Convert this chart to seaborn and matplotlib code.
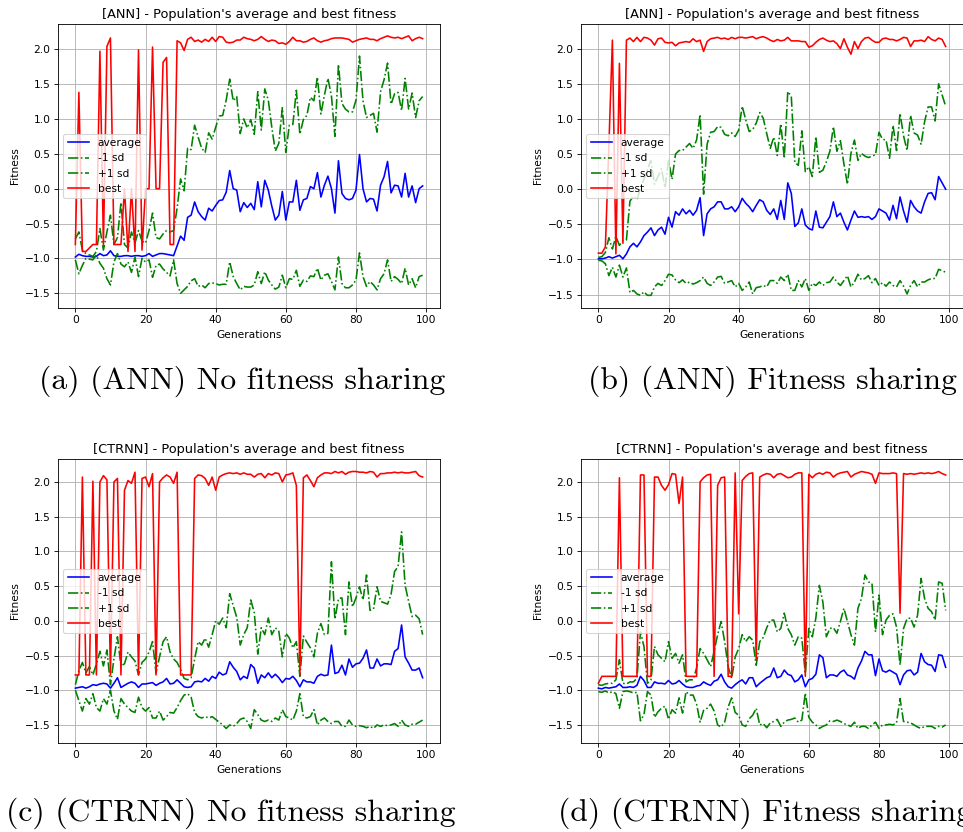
import numpy as np
import matplotlib
matplotlib.use("Agg")
import matplotlib.pyplot as plt
import seaborn as sns

gens = np.arange(100)

# ---- (a) ANN, no fitness sharing ----
best_a = [-0.80, 1.38, -0.90, -0.90, -0.85, -0.80, -0.80, 1.97, -0.80, 2.04,
          2.16, -0.80, -0.80, -0.80, 0.00, -0.90, 0.00, -0.90, 1.99, -0.88,
          0.00, 0.00, 2.03, 0.00, 0.00, 1.81, 1.88, -0.80, -0.80, 2.12,
          2.09, 1.98, 2.14, 2.17, 2.11, 2.13, 2.10, 2.14, 2.11, 2.17,
          2.11, 2.18, 2.17, 2.10, 2.09, 2.10, 2.13, 2.13, 2.17, 2.15,
          2.14, 2.12, 2.14, 2.18, 2.14, 2.11, 2.13, 2.12, 2.08, 2.09,
          2.07, 2.11, 2.17, 2.12, 2.12, 2.10, 2.11, 2.14, 2.16, 2.12,
          2.10, 2.12, 2.13, 2.15, 2.16, 2.16, 2.16, 2.15, 2.14, 2.10,
          2.12, 2.14, 2.15, 2.16, 2.14, 2.14, 2.12, 2.15, 2.17, 2.19,
          2.17, 2.16, 2.17, 2.15, 2.17, 2.19, 2.12, 2.15, 2.17, 2.15]
avg_a = [-0.98, -0.94, -0.96, -0.97, -0.97, -0.98, -0.97, -0.93, -0.96, -0.95,
         -0.89, -0.96, -0.97, -0.97, -0.96, -0.96, -0.97, -0.96, -0.96, -0.97,
         -0.96, -0.93, -0.97, -0.95, -0.93, -0.93, -0.94, -0.95, -0.96, -0.82,
         -0.68, -0.74, -0.41, -0.38, -0.19, -0.33, -0.40, -0.45, -0.28, -0.32,
         -0.24, -0.17, -0.16, -0.05, 0.26, 0.00, -0.02, -0.33, -0.20, -0.27,
         -0.21, -0.30, 0.10, -0.26, 0.12, -0.02, -0.25, -0.45, -0.38, -0.04,
         -0.45, -0.19, -0.19, 0.12, -0.31, -0.16, -0.14, 0.03, 0.00, 0.23,
         -0.12, 0.05, 0.18, 0.00, -0.35, 0.40, -0.07, -0.14, -0.16, -0.14,
         -0.02, 0.49, 0.00, -0.19, -0.14, -0.15, -0.32, 0.05, 0.17, 0.39,
         -0.06, 0.05, 0.04, -0.12, 0.22, -0.12, 0.04, -0.20, 0.00, 0.04]
lower_a = [-1.02, -1.22, -1.10, -1.00, -1.01, -1.02, -0.95, -1.07, -1.14, -1.29,
           -1.38, -1.05, -0.93, -1.08, -1.12, -1.05, -1.20, -0.98, -1.26, -1.00,
           -1.05, -1.02, -1.27, -1.10, -1.08, -1.15, -1.20, -1.25, -1.02, -1.36,
           -1.50, -1.45, -1.40, -1.32, -1.29, -1.40, -1.38, -1.42, -1.36, -1.35,
           -1.36, -1.38, -1.37, -1.37, -1.05, -1.26, -1.36, -1.45, -1.40, -1.41,
           -1.41, -1.38, -1.19, -1.36, -1.19, -1.31, -1.38, -1.44, -1.41, -1.24,
           -1.42, -1.29, -1.30, -1.17, -1.40, -1.31, -1.33, -1.25, -1.26, -1.14,
           -1.31, -1.24, -1.22, -1.33, -1.45, -0.98, -1.36, -1.42, -1.42, -1.38,
           -1.31, -0.92, -1.26, -1.40, -1.33, -1.38, -1.45, -1.29, -1.22, -1.02,
           -1.33, -1.26, -1.30, -1.36, -1.14, -1.38, -1.29, -1.42, -1.26, -1.24]
upper_a = [-0.72, -0.62, -0.88, -0.93, -0.95, -0.97, -0.90, -0.57, -0.88, -0.62,
           -0.38, -0.80, -0.70, -0.20, -0.80, -0.85, -0.62, -0.78, -0.60, -0.75,
           -0.78, -0.60, -0.35, -0.70, -0.72, -0.65, -0.60, -0.62, -0.60, -0.28,
           0.14, -0.03, 0.58, 0.56, 0.91, 0.74, 0.58, 0.52, 0.80, 0.71,
           0.88, 1.04, 1.05, 1.27, 1.57, 1.26, 1.32, 0.79, 1.00, 0.87,
           0.99, 0.78, 1.39, 0.84, 1.43, 1.27, 0.88, 0.54, 0.65, 1.16,
           0.52, 0.91, 0.92, 1.41, 0.78, 0.99, 1.05, 1.31, 1.26, 1.60,
           1.07, 1.34, 1.58, 1.33, 0.75, 1.78, 1.22, 1.14, 1.10, 1.10,
           1.27, 1.90, 1.26, 1.02, 1.05, 1.08, 0.81, 1.39, 1.56, 1.80,
           1.21, 1.36, 1.38, 1.12, 1.58, 1.14, 1.37, 1.02, 1.26, 1.32]

# ---- (b) ANN, fitness sharing ----
best_b = [-0.91, -0.91, -0.82, 0.62, 2.12, -0.92, 1.79, -0.77, 2.12, 2.15,
          2.10, 2.16, 2.10, 2.16, 2.15, 2.12, 2.05, 2.14, 2.15, 2.09,
          2.08, 2.09, 2.04, 2.08, 2.09, 2.10, 2.09, 2.14, 2.10, 2.12,
          1.96, 2.10, 2.14, 2.15, 2.16, 2.14, 2.15, 2.13, 2.16, 2.14,
          2.16, 2.16, 2.15, 2.16, 2.17, 2.14, 2.16, 2.17, 2.15, 2.12,
          2.10, 2.13, 2.11, 2.12, 2.16, 2.11, 2.11, 2.11, 2.10, 2.10,
          2.02, 2.04, 2.09, 2.13, 2.15, 2.12, 2.10, 2.11, 2.07, 2.00,
          2.14, 2.02, 1.92, 2.10, 2.00, 2.10, 2.15, 2.16, 2.12, 2.09,
          2.09, 2.14, 2.15, 2.13, 2.13, 2.11, 2.13, 2.16, 2.15, 2.03,
          2.11, 2.11, 2.12, 2.10, 2.17, 2.13, 2.11, 2.15, 2.13, 2.03]
avg_b = [-0.99, -0.99, -0.98, -0.96, -0.98, -0.96, -0.94, -0.99, -0.92, -0.82,
         -0.77, -0.82, -0.75, -0.66, -0.61, -0.55, -0.66, -0.58, -0.54, -0.64,
         -0.40, -0.54, -0.32, -0.37, -0.28, -0.35, -0.30, -0.37, -0.30, -0.12,
         -0.66, -0.35, -0.28, -0.25, -0.18, -0.18, -0.28, -0.28, -0.25, -0.32,
         -0.25, -0.13, -0.20, -0.25, -0.32, -0.23, -0.15, -0.18, -0.30, -0.36,
         -0.28, -0.43, -0.16, -0.43, 0.09, -0.06, -0.53, -0.48, -0.28, -0.51,
         -0.56, -0.58, -0.31, -0.54, -0.55, -0.47, -0.39, -0.18, -0.39, -0.34,
         -0.47, -0.58, -0.44, -0.31, -0.40, -0.39, -0.40, -0.39, -0.43, -0.39,
         -0.28, -0.31, -0.34, -0.44, -0.23, -0.42, -0.11, -0.31, -0.47, -0.16,
         -0.25, -0.31, -0.34, -0.18, -0.06, -0.05, -0.15, 0.18, 0.09, 0.00]
lower_b = [-1.01, -1.02, -1.06, -1.23, -1.11, -1.25, -1.08, -1.25, -1.12, -1.47,
           -1.44, -1.49, -1.51, -1.46, -1.51, -1.51, -1.39, -1.34, -1.37, -1.30,
           -1.21, -1.22, -1.29, -1.33, -1.29, -1.34, -1.32, -1.35, -1.33, -1.30,
           -1.25, -1.34, -1.37, -1.32, -1.25, -1.24, -1.34, -1.32, -1.30, -1.39,
           -1.34, -1.44, -1.39, -1.32, -1.49, -1.40, -1.39, -1.37, -1.39, -1.30,
           -1.30, -1.34, -1.25, -1.30, -1.21, -1.44, -1.44, -1.30, -1.39, -1.27,
           -1.44, -1.34, -1.37, -1.32, -1.37, -1.33, -1.32, -1.25, -1.32, -1.37,
           -1.30, -1.23, -1.39, -1.32, -1.21, -1.29, -1.27, -1.23, -1.33, -1.27,
           -1.37, -1.33, -1.38, -1.32, -1.37, -1.39, -1.30, -1.38, -1.49, -1.37,
           -1.30, -1.39, -1.32, -1.32, -1.29, -1.27, -1.27, -1.14, -1.16, -1.18]
upper_b = [-0.97, -0.96, -0.90, -0.69, -0.85, -0.67, -0.80, -0.73, -0.72, -0.17,
           -0.10, -0.15, 0.01, 0.14, 0.29, 0.41, 0.07, 0.18, 0.29, 0.02,
           0.41, 0.14, 0.50, 0.55, 0.55, 0.60, 0.65, 0.58, 0.70, 1.06,
           -0.07, 0.64, 0.81, 0.82, 0.89, 0.88, 0.78, 0.76, 0.80, 0.75,
           0.84, 1.18, 0.99, 0.82, 0.85, 0.94, 1.09, 1.01, 0.79, 0.58,
           0.74, 0.48, 0.93, 0.44, 1.39, 1.32, 0.38, 0.34, 0.83, 0.25,
           0.32, 0.18, 0.75, 0.24, 0.27, 0.39, 0.54, 0.89, 0.54, 0.69,
           0.36, 0.07, 0.51, 0.70, 0.41, 0.51, 0.47, 0.45, 0.47, 0.49,
           0.81, 0.71, 0.70, 0.44, 0.91, 0.55, 1.08, 0.76, 0.55, 1.05,
           0.80, 0.77, 0.64, 0.96, 1.17, 1.17, 0.97, 1.50, 1.34, 1.18]

# ---- (c) CTRNN, no fitness sharing ----
best_c = [-0.78, -0.78, 2.07, -0.78, -0.78, 2.01, -0.78, 2.00, 2.09, 2.03,
          -0.78, 2.00, 2.05, -0.78, 1.88, 2.02, 1.98, 2.14, -0.78, 2.05,
          2.07, 1.93, 2.12, -0.78, 2.00, 2.06, 2.10, 2.07, 1.98, 2.14,
          -0.78, -0.78, -0.78, -0.78, 2.05, 2.10, 2.09, 2.05, 1.95, 2.07,
          1.88, 2.07, 2.10, 2.12, 2.13, 2.12, 2.13, 2.11, 2.13, 2.11,
          2.11, 2.07, 2.11, 2.12, 2.06, 2.12, 2.10, 2.13, 2.12, 2.00,
          2.10, 2.11, 2.13, 1.95, -0.78, 2.06, 2.10, 2.02, 1.93, 2.06,
          2.10, 2.13, 2.13, 2.12, 2.15, 2.13, 2.15, 2.11, 2.14, 2.15,
          2.15, 2.14, 2.14, 2.13, 2.15, 2.14, 2.07, 2.12, 2.12, 2.13,
          2.13, 2.14, 2.13, 2.14, 2.13, 2.13, 2.14, 2.15, 2.09, 2.07]
avg_c = [-0.97, -0.96, -0.95, -0.97, -0.95, -0.92, -0.93, -0.91, -0.90, -0.91,
         -0.97, -0.90, -0.82, -0.96, -0.93, -0.90, -0.88, -0.90, -0.96, -0.91,
         -0.91, -0.90, -0.89, -0.93, -0.90, -0.88, -0.83, -0.91, -0.90, -0.85,
         -0.90, -0.95, -0.96, -0.95, -0.88, -0.87, -0.88, -0.83, -0.87, -0.80,
         -0.83, -0.74, -0.78, -0.76, -0.59, -0.67, -0.73, -0.85, -0.80, -0.83,
         -0.63, -0.68, -0.90, -0.78, -0.82, -0.75, -0.82, -0.77, -0.82, -0.89,
         -0.83, -0.84, -0.80, -0.86, -0.95, -0.85, -0.88, -0.88, -0.90, -0.80,
         -0.77, -0.79, -0.78, -0.35, -0.76, -0.74, -0.64, -0.78, -0.55, -0.67,
         -0.62, -0.61, -0.54, -0.42, -0.68, -0.68, -0.55, -0.65, -0.62, -0.62,
         -0.63, -0.44, -0.40, -0.06, -0.52, -0.61, -0.71, -0.71, -0.68, -0.82]
lower_c = [-1.00, -1.15, -1.30, -1.12, -1.20, -1.05, -1.25, -1.30, -1.12, -1.20,
           -1.00, -1.30, -1.42, -1.12, -1.20, -1.25, -1.30, -1.32, -1.10, -1.25,
           -1.30, -1.25, -1.40, -1.40, -1.30, -1.43, -1.38, -1.32, -1.33, -1.25,
           -1.15, -1.07, -1.05, -1.10, -1.32, -1.38, -1.40, -1.38, -1.40, -1.38,
           -1.42, -1.46, -1.50, -1.55, -1.50, -1.52, -1.48, -1.42, -1.40, -1.45,
           -1.55, -1.28, -1.35, -1.43, -1.45, -1.43, -1.45, -1.40, -1.43, -1.28,
           -1.38, -1.40, -1.43, -1.30, -1.05, -1.38, -1.40, -1.38, -1.28, -1.50,
           -1.43, -1.40, -1.45, -1.48, -1.45, -1.45, -1.52, -1.52, -1.43, -1.50,
           -1.52, -1.51, -1.52, -1.54, -1.52, -1.55, -1.50, -1.52, -1.50, -1.51,
           -1.50, -1.48, -1.52, -1.43, -1.50, -1.52, -1.49, -1.49, -1.46, -1.43]
upper_c = [-0.92, -0.72, -0.60, -0.75, -0.66, -0.78, -0.62, -0.44, -0.65, -0.42,
           -0.92, -0.55, -0.23, -0.65, -0.62, -0.45, -0.52, -0.58, -0.78, -0.60,
           -0.55, -0.45, -0.30, -0.75, -0.52, -0.30, -0.23, -0.45, -0.55, -0.60,
           -0.70, -0.83, -0.85, -0.82, -0.55, -0.30, -0.35, -0.25, -0.38, -0.20,
           0.00, -0.05, 0.04, -0.10, 0.39, 0.22, 0.05, -0.35, -0.20, -0.10,
           0.30, 0.12, -0.48, -0.10, -0.20, 0.04, -0.20, -0.10, -0.15, -0.52,
           -0.18, -0.25, -0.39, -0.30, -0.80, -0.22, -0.31, -0.39, -0.52, -0.18,
           -0.04, -0.20, -0.18, 0.85, 0.02, 0.32, 0.33, -0.20, 0.56, 0.20,
           0.33, 0.49, 0.30, 0.66, 0.15, 0.17, 0.49, 0.28, 0.26, 0.24,
           0.38, 0.71, 0.78, 1.28, 0.51, 0.28, 0.06, 0.08, 0.03, -0.20]

# ---- (d) CTRNN, fitness sharing ----
best_d = [-0.90, -0.80, -0.80, -0.80, -0.80, -0.80, 2.06, -0.80, -0.80, -0.80,
          -0.80, -0.80, 2.10, 2.10, -0.80, -0.80, 2.07, 2.07, 1.95, 1.88,
          1.96, 2.12, 2.11, 1.69, 2.07, -0.80, -0.80, -0.80, -0.80, 2.00,
          2.06, 2.10, 2.11, -0.80, 1.95, 2.06, 2.07, -0.80, -0.80, 2.13,
          0.10, 2.02, 2.08, 2.12, 2.13, -0.56, 2.07, 2.10, 2.12, 2.11,
          2.06, 2.11, 2.12, 2.09, 2.06, 2.07, 2.11, 2.13, 2.13, -0.80,
          2.11, 2.06, 2.11, 2.13, 2.11, 2.14, 2.13, 2.07, 2.11, 2.13,
          2.14, 2.15, 2.07, 2.11, 2.13, 2.15, 2.14, 2.13, 2.11, 1.98,
          2.13, 2.12, 2.12, 2.12, 2.13, 2.12, 0.11, 2.12, 2.11, 2.12,
          2.11, 2.12, 2.13, 2.12, 2.13, 2.12, 2.13, 2.15, 2.12, 2.10]
avg_d = [-0.97, -0.98, -0.96, -0.97, -0.96, -0.95, -0.91, -0.96, -0.96, -0.95,
         -0.96, -0.93, -0.80, -0.86, -0.96, -0.96, -0.88, -0.90, -0.90, -0.91,
         -0.86, -0.91, -0.90, -0.86, -0.91, -0.95, -0.96, -0.96, -0.94, -0.93,
         -0.88, -0.91, -0.93, -0.87, -0.85, -0.77, -0.88, -0.95, -0.97, -0.92,
         -0.88, -0.85, -0.91, -0.82, -0.82, -0.95, -0.90, -0.86, -0.82, -0.80,
         -0.68, -0.82, -0.80, -0.71, -0.77, -0.79, -0.88, -0.85, -0.78, -0.95,
         -0.85, -0.83, -0.77, -0.49, -0.53, -0.82, -0.78, -0.78, -0.80, -0.74,
         -0.71, -0.78, -0.80, -0.84, -0.68, -0.58, -0.44, -0.49, -0.49, -0.79,
         -0.55, -0.72, -0.74, -0.71, -0.74, -0.77, -0.92, -0.78, -0.72, -0.71,
         -0.78, -0.74, -0.47, -0.59, -0.63, -0.64, -0.73, -0.49, -0.50, -0.67]
lower_d = [-1.02, -1.03, -1.01, -1.04, -1.02, -1.05, -1.26, -1.02, -1.01, -1.02,
           -1.04, -1.03, -1.44, -1.35, -1.02, -1.07, -1.39, -1.31, -1.26, -1.23,
           -1.42, -1.28, -1.33, -1.11, -1.33, -1.02, -1.07, -1.07, -1.20, -1.46,
           -1.29, -1.26, -1.20, -1.30, -1.50, -1.53, -1.46, -1.24, -1.11, -1.32,
           -1.36, -1.50, -1.52, -1.41, -1.36, -1.26, -1.50, -1.48, -1.54, -1.47,
           -1.45, -1.42, -1.52, -1.46, -1.43, -1.42, -1.40, -1.46, -1.43, -1.04,
           -1.39, -1.46, -1.50, -1.55, -1.52, -1.50, -1.44, -1.45, -1.43, -1.45,
           -1.48, -1.50, -1.52, -1.46, -1.55, -1.52, -1.52, -1.55, -1.50, -1.46,
           -1.55, -1.50, -1.50, -1.49, -1.50, -1.47, -1.12, -1.45, -1.46, -1.47,
           -1.50, -1.53, -1.55, -1.52, -1.52, -1.52, -1.55, -1.52, -1.53, -1.50]
upper_d = [-0.92, -0.93, -0.91, -0.90, -0.90, -0.85, -0.56, -0.90, -0.91, -0.88,
           -0.88, -0.83, -0.16, -0.37, -0.90, -0.85, -0.37, -0.49, -0.54, -0.59,
           -0.30, -0.54, -0.47, -0.61, -0.49, -0.88, -0.85, -0.85, -0.68, -0.40,
           -0.47, -0.56, -0.66, -0.44, -0.20, -0.01, -0.30, -0.66, -0.83, -0.52,
           -0.40, -0.20, -0.30, -0.23, -0.28, -0.64, -0.30, -0.24, -0.10, 0.01,
           0.01, -0.16, -0.11, 0.11, -0.11, -0.20, -0.35, -0.23, -0.25, -0.76,
           -0.11, -0.23, 0.04, 0.51, 0.27, -0.23, -0.11, -0.10, -0.18, -0.01,
           0.18, -0.01, -0.20, -0.35, 0.18, 0.32, 0.66, 0.56, 0.54, -0.16,
           0.37, -0.20, 0.01, 0.08, 0.10, -0.09, -0.64, -0.11, 0.03, 0.04,
           -0.09, 0.08, 0.61, 0.32, 0.18, 0.13, 0.01, 0.56, 0.54, 0.15]

titles = ["[ANN] - Population's average and best fitness",
          "[ANN] - Population's average and best fitness",
          "[CTRNN] - Population's average and best fitness",
          "[CTRNN] - Population's average and best fitness"]
captions = ["(a) (ANN) No fitness sharing", "(b) (ANN) Fitness sharing",
            "(c) (CTRNN) No fitness sharing", "(d) (CTRNN) Fitness sharing"]

# each subplot is a default 640x480 matplotlib figure shrunk to ~77%
s = 0.77
plt.rcParams.update({
    "font.size": 10 * s,
    "axes.titlesize": 12 * s,
    "axes.titlepad": 6 * s,
    "axes.labelpad": 4 * s,
    "axes.linewidth": 0.8 * s,
    "grid.linewidth": 0.8 * s,
    "lines.linewidth": 1.5 * s,
    "patch.linewidth": 1.0 * s,
    "xtick.major.size": 3.5 * s, "ytick.major.size": 3.5 * s,
    "xtick.major.width": 0.8 * s, "ytick.major.width": 0.8 * s,
    "xtick.major.pad": 3.5 * s, "ytick.major.pad": 3.5 * s,
})

fig = plt.figure(figsize=(9.63, 8.32), dpi=100)

# top-left corner of each axes box, in pixels
boxes = [(58, 24), (581, 24), (58, 459), (581, 459)]
ylims = [(-1.71, 2.36), (-1.69, 2.35), (-1.76, 2.33), (-1.76, 2.33)]
panels = [(avg_a, lower_a, upper_a, best_a), (avg_b, lower_b, upper_b, best_b),
          (avg_c, lower_c, upper_c, best_c), (avg_d, lower_d, upper_d, best_d)]

W, H = 963, 832
for i, (avg, lo, up, best) in enumerate(panels):
    x0, y0 = boxes[i]
    ax = fig.add_axes([x0 / W, 1 - (y0 + 284) / H, 382 / W, 284 / H])
    sns.lineplot(x=gens, y=avg, ax=ax, color="blue", label="average")
    sns.lineplot(x=gens, y=lo, ax=ax, color="green", linestyle="-.", label="-1 sd")
    sns.lineplot(x=gens, y=up, ax=ax, color="green", linestyle="-.", label="+1 sd")
    sns.lineplot(x=gens, y=best, ax=ax, color="red", label="best")
    ax.set_title(titles[i])
    ax.set_xlabel("Generations")
    ax.set_ylabel("Fitness")
    ax.set_xlim(-4.95, 103.95)
    ax.set_ylim(*ylims[i])
    ax.set_xticks([0, 20, 40, 60, 80, 100])
    ax.set_yticks([-1.5, -1.0, -0.5, 0.0, 0.5, 1.0, 1.5, 2.0])
    ax.grid(True)
    ax.legend(loc="center left")

# LaTeX-style subfigure captions
cap_pos = [(242, 389), (772, 389), (231, 821), (765, 821)]
for (cx, cy), txt in zip(cap_pos, captions):
    fig.text(cx / W, 1 - cy / H, txt, family="cmr10", fontsize=22.8,
             ha="center", va="baseline")

fig.savefig("out.png", dpi=100)
